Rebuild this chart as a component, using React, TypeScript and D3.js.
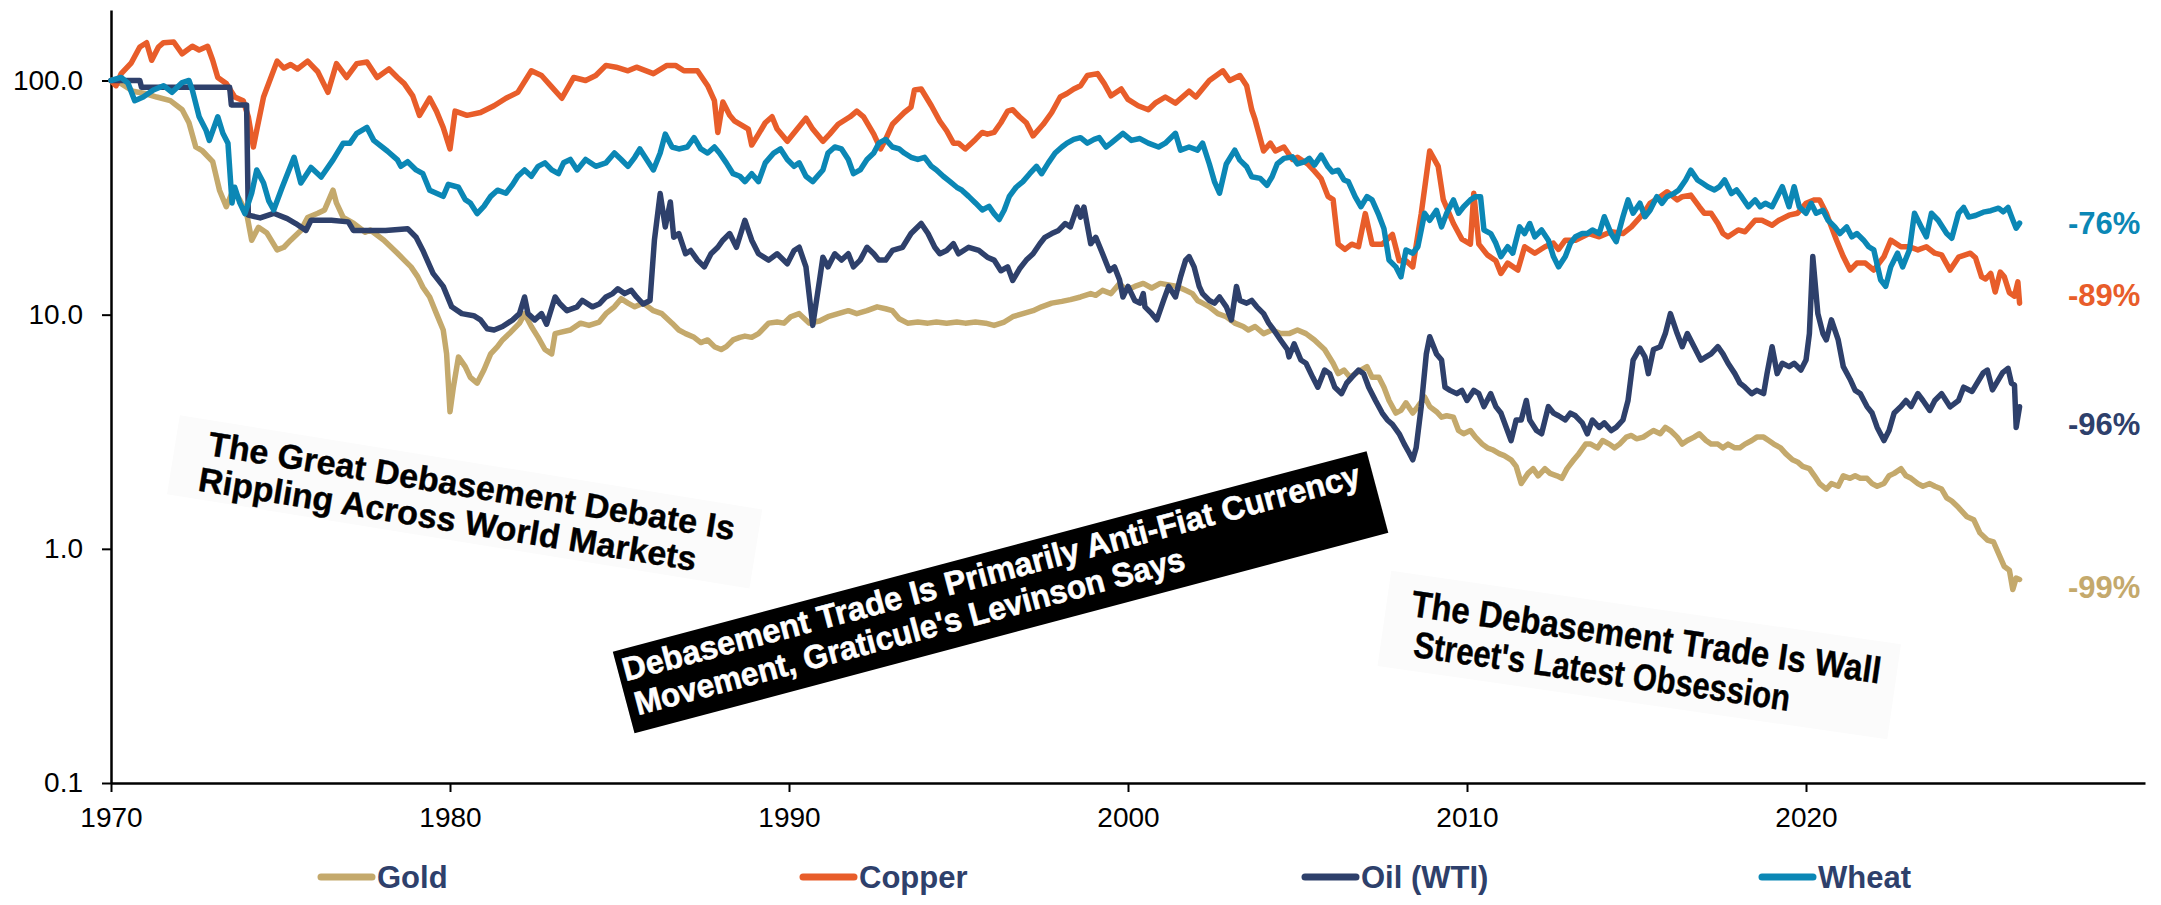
import React, { useEffect, useRef } from "react";
import * as d3 from "d3";

// purchasing power of the dollar in each commodity, 1970 = 100 (log scale)
const seriesNames = ["Gold", "Copper", "Oil (WTI)", "Wheat"];
const seriesColors = ["#C4A96C", "#E85D2A", "#2E406B", "#0B87B5"];
const endLabels = ["-99%", "-89%", "-96%", "-76%"];
const yTicks = [0.1, 1, 10, 100];
const xTicks = [1970, 1980, 1990, 2000, 2010, 2020];

const gold: [number, number][] = [
  [1970.0, 100], [1970.3, 97], [1970.65, 90], [1971.0, 88], [1971.35, 85], [1971.75, 82], [1972.1, 75], [1972.3, 66],
  [1972.5, 52], [1972.7, 50], [1973.0, 45], [1973.2, 34], [1973.4, 28.9], [1973.6, 34], [1973.8, 30.9], [1974.0, 27.1],
  [1974.15, 20.8], [1974.35, 23.6], [1974.6, 22.3], [1974.9, 18.9], [1975.1, 19.4], [1975.3, 20.8], [1975.6, 22.9],
  [1975.8, 26], [1976.1, 27.1], [1976.3, 28], [1976.55, 34], [1976.65, 30], [1976.85, 26], [1977.15, 24.6], [1977.5, 22.5],
  [1977.65, 23], [1978.05, 20.8], [1978.45, 18.3], [1978.65, 17.1], [1978.85, 16], [1979.05, 14.5], [1979.2, 13.1],
  [1979.4, 11.9], [1979.6, 10.1], [1979.8, 8.6], [1979.9, 6.8], [1980.0, 3.85], [1980.1, 4.9], [1980.25, 6.6], [1980.45, 6],
  [1980.6, 5.4], [1980.8, 5.1], [1981.0, 5.8], [1981.2, 6.8], [1981.4, 7.3], [1981.55, 7.8], [1981.75, 8.3], [1982.05, 9.2],
  [1982.2, 10.1], [1982.4, 8.9], [1982.6, 8.0], [1982.8, 7.1], [1983.0, 6.8], [1983.1, 8.3], [1983.25, 8.4], [1983.55, 8.6],
  [1983.85, 9.2], [1984.1, 9.0], [1984.4, 9.3], [1984.6, 10.1], [1984.85, 10.8], [1985.05, 11.7], [1985.25, 11.2],
  [1985.45, 10.8], [1985.7, 11.2], [1986.0, 10.4], [1986.25, 10.1], [1986.55, 9.2], [1986.75, 8.6], [1986.95, 8.3],
  [1987.2, 8.0], [1987.4, 7.6], [1987.6, 7.8], [1987.8, 7.3], [1988.0, 7.1], [1988.15, 7.3], [1988.35, 7.8], [1988.55, 8.0],
  [1988.7, 8.1], [1988.9, 8.0], [1989.1, 8.3], [1989.4, 9.2], [1989.65, 9.3], [1989.85, 9.2], [1990.05, 9.8], [1990.3, 10.1],
  [1990.6, 9.2], [1990.9, 9.4], [1991.15, 9.8], [1991.45, 10.1], [1991.75, 10.4], [1992.0, 10.1], [1992.3, 10.4],
  [1992.6, 10.8], [1992.85, 10.6], [1993.05, 10.4], [1993.25, 9.6], [1993.5, 9.2], [1993.8, 9.3], [1994.1, 9.2],
  [1994.35, 9.3], [1994.65, 9.2], [1994.95, 9.3], [1995.2, 9.2], [1995.5, 9.3], [1995.8, 9.2], [1996.05, 9.0], [1996.35, 9.3],
  [1996.6, 9.8], [1996.9, 10.1], [1997.2, 10.4], [1997.45, 10.8], [1997.75, 11.2], [1998.05, 11.4], [1998.3, 11.6],
  [1998.6, 11.9], [1998.9, 12.3], [1999.05, 12.1], [1999.25, 12.7], [1999.5, 12.3], [1999.75, 13.6], [1999.95, 12.7],
  [2000.2, 13.2], [2000.45, 13.6], [2000.7, 13.0], [2000.95, 13.6], [2001.2, 13.4], [2001.45, 13.2], [2001.7, 12.7],
  [2001.9, 12.3], [2002.05, 11.5], [2002.2, 11.2], [2002.4, 10.8], [2002.65, 10.1], [2002.9, 9.8], [2003.15, 9.2],
  [2003.4, 8.9], [2003.55, 8.6], [2003.75, 8.9], [2004.0, 8.3], [2004.25, 8.6], [2004.5, 8.3], [2004.75, 8.3], [2005.0, 8.6],
  [2005.25, 8.3], [2005.5, 7.8], [2005.8, 7.1], [2006.05, 6.2], [2006.2, 5.6], [2006.37, 5.8], [2006.55, 5.4], [2006.7, 5.6],
  [2006.87, 5.8], [2007.05, 6.0], [2007.2, 5.4], [2007.4, 5.4], [2007.55, 4.9], [2007.7, 4.3], [2007.9, 3.8], [2008.05, 3.9],
  [2008.2, 4.2], [2008.4, 3.8], [2008.55, 4.05], [2008.75, 4.45], [2008.9, 4.05], [2009.1, 3.85], [2009.25, 3.65],
  [2009.4, 3.7], [2009.6, 3.65], [2009.75, 3.2], [2009.9, 3.1], [2010.1, 3.2], [2010.25, 3.0], [2010.45, 2.8], [2010.6, 2.7],
  [2010.75, 2.65], [2010.95, 2.55], [2011.1, 2.5], [2011.3, 2.4], [2011.45, 2.25], [2011.6, 1.9], [2011.8, 2.1],
  [2011.95, 2.2], [2012.1, 2.05], [2012.3, 2.2], [2012.45, 2.1], [2012.65, 2.05], [2012.8, 2.0], [2012.95, 2.2],
  [2013.15, 2.4], [2013.3, 2.55], [2013.5, 2.8], [2013.65, 2.8], [2013.85, 2.7], [2014.0, 2.9], [2014.2, 2.8], [2014.35, 2.7],
  [2014.5, 2.8], [2014.7, 3.0], [2014.85, 3.05], [2015.0, 2.95], [2015.2, 3.0], [2015.35, 3.1], [2015.5, 3.2], [2015.7, 3.1],
  [2015.85, 3.3], [2016.0, 3.2], [2016.2, 3.0], [2016.35, 2.8], [2016.5, 2.9], [2016.7, 3.0], [2016.85, 3.1], [2017.05, 2.9],
  [2017.2, 2.8], [2017.4, 2.8], [2017.55, 2.7], [2017.7, 2.8], [2017.9, 2.7], [2018.05, 2.7], [2018.2, 2.8], [2018.4, 2.9],
  [2018.55, 3.0], [2018.75, 3.0], [2018.9, 2.9], [2019.05, 2.8], [2019.25, 2.7], [2019.4, 2.55], [2019.6, 2.4],
  [2019.75, 2.35], [2019.9, 2.25], [2020.1, 2.2], [2020.25, 2.05], [2020.4, 1.9], [2020.6, 1.8], [2020.75, 1.9],
  [2020.95, 1.85], [2021.1, 2.05], [2021.3, 2.0], [2021.45, 2.05], [2021.6, 2.0], [2021.8, 2.0], [2021.95, 1.9],
  [2022.1, 1.85], [2022.3, 1.9], [2022.45, 2.05], [2022.6, 2.1], [2022.8, 2.2], [2022.95, 2.05], [2023.1, 2.0], [2023.3, 1.9],
  [2023.45, 1.85], [2023.65, 1.9], [2023.8, 1.85], [2024.0, 1.8], [2024.15, 1.65], [2024.3, 1.6], [2024.5, 1.5],
  [2024.75, 1.37], [2024.95, 1.33], [2025.13, 1.17], [2025.35, 1.09], [2025.53, 1.07], [2025.73, 0.92], [2025.85, 0.84],
  [2026.0, 0.81], [2026.1, 0.67], [2026.2, 0.75], [2026.3, 0.74],
];

const copper: [number, number][] = [
  [1970.0, 100], [1970.15, 95], [1970.3, 107], [1970.6, 119], [1970.85, 139], [1971.05, 145], [1971.2, 122], [1971.4, 139],
  [1971.55, 145], [1971.85, 146], [1972.1, 130], [1972.4, 140], [1972.6, 135], [1972.85, 140], [1973.0, 122], [1973.15, 103],
  [1973.4, 97], [1973.65, 85], [1973.9, 82], [1974.05, 70], [1974.2, 52], [1974.3, 61.5], [1974.5, 85], [1974.65, 97],
  [1974.9, 121], [1975.1, 113], [1975.3, 117], [1975.5, 112], [1975.8, 121], [1976.1, 109], [1976.4, 89], [1976.65, 118],
  [1976.95, 103], [1977.25, 118], [1977.55, 120], [1977.85, 103], [1978.2, 112], [1978.45, 103], [1978.65, 97], [1978.9, 86],
  [1979.1, 71], [1979.4, 84], [1979.6, 74], [1979.8, 63], [1980.0, 51], [1980.15, 74], [1980.5, 71], [1980.9, 73],
  [1981.3, 78], [1981.65, 84], [1982.0, 89], [1982.4, 110], [1982.7, 105], [1983.0, 94], [1983.3, 84], [1983.65, 103],
  [1984.0, 100], [1984.3, 105], [1984.6, 116], [1984.9, 114], [1985.25, 110], [1985.5, 114], [1986.0, 107], [1986.4, 116],
  [1986.65, 116], [1986.9, 110], [1987.3, 110], [1987.6, 95], [1987.8, 82], [1987.9, 60], [1988.05, 81], [1988.25, 71],
  [1988.4, 67], [1988.8, 62], [1988.9, 53], [1989.1, 59], [1989.3, 66], [1989.5, 70], [1989.65, 62], [1989.95, 55],
  [1990.2, 61], [1990.5, 69], [1990.7, 62], [1991.0, 55], [1991.2, 59], [1991.45, 65], [1991.8, 70], [1992.0, 74],
  [1992.2, 70], [1992.5, 59], [1992.7, 51], [1992.85, 56], [1993.05, 65], [1993.4, 73], [1993.6, 77], [1993.7, 91],
  [1993.9, 92], [1994.2, 78], [1994.45, 67], [1994.65, 61], [1994.85, 54], [1995.0, 54], [1995.2, 51], [1995.5, 56],
  [1995.7, 60], [1995.85, 59], [1996.05, 60], [1996.25, 66], [1996.45, 74], [1996.6, 75], [1996.8, 70], [1997.0, 66],
  [1997.2, 58], [1997.5, 65], [1997.75, 73], [1998.0, 85], [1998.2, 88], [1998.4, 92], [1998.6, 95], [1998.8, 105],
  [1999.1, 107], [1999.3, 97], [1999.5, 86], [1999.8, 92], [2000.0, 83], [2000.3, 78], [2000.6, 75], [2000.8, 80],
  [2001.1, 85], [2001.4, 80], [2001.8, 90], [2002.0, 85], [2002.4, 100], [2002.8, 110], [2003.0, 100], [2003.3, 105],
  [2003.5, 95], [2003.65, 75], [2003.75, 68], [2004.0, 50], [2004.2, 54], [2004.35, 50], [2004.6, 52], [2004.85, 46],
  [2005.0, 47], [2005.3, 44], [2005.5, 41], [2005.7, 38], [2005.9, 32], [2006.05, 31], [2006.2, 20], [2006.4, 19],
  [2006.6, 20], [2006.8, 19.5], [2007.0, 27], [2007.2, 20], [2007.5, 20], [2007.8, 22], [2008.0, 17], [2008.2, 17],
  [2008.4, 16], [2008.65, 27], [2008.9, 50], [2009.15, 43], [2009.3, 31], [2009.6, 24.5], [2009.85, 21], [2010.1, 20],
  [2010.2, 33], [2010.35, 20], [2010.6, 18], [2010.85, 17], [2011.0, 15], [2011.2, 16.6], [2011.5, 15.5], [2011.7, 19.5],
  [2012.0, 18.3], [2012.3, 19.5], [2012.55, 20.2], [2012.7, 19], [2012.9, 20.8], [2013.2, 20.8], [2013.6, 22.2],
  [2013.9, 21.5], [2014.25, 22.6], [2014.6, 22.2], [2014.85, 23.7], [2015.2, 27], [2015.4, 29.9], [2015.7, 31.9],
  [2015.9, 33.5], [2016.2, 30.9], [2016.35, 31.9], [2016.6, 32.4], [2016.85, 28.9], [2017.0, 27.1], [2017.2, 27.1],
  [2017.4, 24.5], [2017.55, 22.2], [2017.7, 21.5], [2018.0, 23], [2018.2, 22.6], [2018.5, 25.3], [2018.7, 25.3],
  [2019.0, 24.1], [2019.2, 25.3], [2019.5, 26.6], [2019.75, 27.1], [2020.0, 29.9], [2020.25, 30.9], [2020.4, 30.9],
  [2020.6, 27.1], [2020.75, 23.7], [2020.9, 20.8], [2021.1, 17.7], [2021.3, 15.5], [2021.5, 16.6], [2021.75, 16.6],
  [2022.0, 15.5], [2022.3, 17.7], [2022.5, 20.8], [2022.8, 19.5], [2023.05, 19.5], [2023.3, 18.9], [2023.55, 19.5],
  [2023.8, 18.3], [2024.0, 18.0], [2024.25, 15.5], [2024.5, 17.6], [2024.85, 18.3], [2025.0, 17.5], [2025.18, 14.5],
  [2025.3, 14.2], [2025.45, 15], [2025.58, 12.5], [2025.73, 15.2], [2025.85, 14.5], [2026.0, 12.4], [2026.15, 12],
  [2026.25, 13.8], [2026.3, 11.2],
];

const oil: [number, number][] = [
  [1970.0, 100], [1970.85, 100], [1970.9, 93.5], [1973.5, 93.5], [1973.55, 78.5], [1974.0, 78.5], [1974.05, 26.6],
  [1974.4, 25.9], [1974.8, 27.1], [1975.2, 25.7], [1975.45, 24.5], [1975.75, 22.9], [1975.9, 25.3], [1976.5, 25.3],
  [1977.0, 24.9], [1977.15, 22.9], [1977.5, 22.9], [1978.1, 22.9], [1978.75, 23.3], [1979.0, 21.4], [1979.2, 18.8],
  [1979.5, 15], [1979.8, 13.2], [1980.05, 10.8], [1980.35, 10.1], [1980.7, 9.9], [1980.9, 9.5], [1981.1, 8.7], [1981.3, 8.6],
  [1981.55, 8.9], [1981.85, 9.5], [1982.05, 10.1], [1982.2, 11.9], [1982.3, 10.1], [1982.5, 9.5], [1982.7, 10.1],
  [1982.85, 9.1], [1983.1, 11.9], [1983.25, 11.1], [1983.45, 10.4], [1983.75, 10.8], [1983.9, 11.5], [1984.2, 10.8],
  [1984.4, 11.1], [1984.6, 11.9], [1984.8, 12.3], [1984.95, 12.9], [1985.15, 12.3], [1985.35, 12.7], [1985.5, 11.9],
  [1985.7, 11.1], [1985.9, 11.5], [1986.03, 20.8], [1986.2, 32.9], [1986.35, 23.7], [1986.5, 30.3], [1986.6, 21.4],
  [1986.75, 22.2], [1986.95, 18.2], [1987.1, 18.8], [1987.3, 17.1], [1987.5, 16], [1987.7, 18.2], [1987.9, 19.4],
  [1988.05, 20.8], [1988.25, 22.2], [1988.45, 19.4], [1988.7, 25.3], [1988.9, 20.8], [1989.1, 18.2], [1989.4, 17.1],
  [1989.65, 18.2], [1989.95, 16.5], [1990.15, 18.8], [1990.3, 19.4], [1990.5, 16], [1990.7, 9.0], [1990.9, 14.0],
  [1991.0, 17.6], [1991.15, 16], [1991.35, 18.2], [1991.55, 17.1], [1991.75, 18.2], [1991.9, 16], [1992.1, 17.1],
  [1992.3, 19.4], [1992.5, 18.2], [1992.65, 17.1], [1992.85, 17.1], [1993.05, 18.8], [1993.35, 19.4], [1993.6, 22.2],
  [1993.9, 24.5], [1994.1, 22.2], [1994.3, 19.4], [1994.45, 18.2], [1994.65, 18.8], [1994.85, 20.1], [1995.0, 18.2],
  [1995.3, 19.4], [1995.6, 18.8], [1995.85, 17.6], [1996.05, 17.1], [1996.25, 15.4], [1996.45, 16], [1996.6, 14],
  [1996.8, 15.7], [1997.0, 17.1], [1997.2, 18.2], [1997.4, 20.1], [1997.55, 21.4], [1997.75, 22.2], [1997.95, 22.9],
  [1998.15, 24.5], [1998.3, 23.7], [1998.5, 28.8], [1998.6, 26.1], [1998.7, 28.8], [1998.9, 20.1], [1999.05, 21.4],
  [1999.25, 18.2], [1999.45, 15.4], [1999.6, 16], [1999.75, 14.1], [1999.85, 11.9], [2000.0, 13.2], [2000.2, 11.5],
  [2000.35, 11.2], [2000.45, 12.3], [2000.5, 10.8], [2000.7, 10.1], [2000.85, 9.5], [2001.05, 11.5], [2001.2, 13.2],
  [2001.4, 11.9], [2001.55, 14.5], [2001.7, 17.1], [2001.8, 17.7], [2001.95, 16], [2002.1, 13.2], [2002.2, 12.3],
  [2002.4, 11.5], [2002.55, 11.2], [2002.7, 11.9], [2002.9, 10.8], [2003.05, 9.5], [2003.2, 13.2], [2003.3, 11.5],
  [2003.5, 11.2], [2003.65, 11.5], [2003.8, 10.8], [2004.0, 10.1], [2004.15, 9.2], [2004.3, 8.6], [2004.5, 7.8],
  [2004.7, 7.1], [2004.75, 6.6], [2004.9, 7.5], [2005.1, 6.4], [2005.25, 6.2], [2005.45, 5.4], [2005.6, 4.9], [2005.8, 5.8],
  [2005.95, 5.6], [2006.1, 4.9], [2006.3, 4.6], [2006.45, 5.1], [2006.6, 5.4], [2006.8, 5.8], [2006.95, 5.6], [2007.1, 4.9],
  [2007.3, 4.3], [2007.5, 3.8], [2007.65, 3.55], [2007.8, 3.4], [2008.0, 3.1], [2008.15, 2.8], [2008.3, 2.56],
  [2008.4, 2.4], [2008.5, 2.7], [2008.65, 4.05], [2008.8, 6.8], [2008.9, 8.05], [2009.1, 6.8], [2009.25, 6.4],
  [2009.35, 4.9], [2009.5, 4.75], [2009.7, 4.6], [2009.85, 4.75], [2010.0, 4.3], [2010.2, 4.75], [2010.35, 4.6],
  [2010.5, 4.05], [2010.7, 4.6], [2010.85, 4.05], [2011.0, 3.8], [2011.3, 2.9], [2011.45, 3.55], [2011.6, 3.55],
  [2011.75, 4.3], [2011.85, 3.55], [2012.05, 3.2], [2012.2, 3.1], [2012.4, 4.05], [2012.55, 3.8], [2012.7, 3.7],
  [2012.9, 3.55], [2013.05, 3.8], [2013.2, 3.7], [2013.4, 3.45], [2013.55, 3.1], [2013.7, 3.55], [2013.9, 3.3],
  [2014.05, 3.45], [2014.25, 3.2], [2014.4, 3.3], [2014.6, 3.55], [2014.75, 4.3], [2014.9, 6.4], [2015.1, 7.2],
  [2015.25, 6.6], [2015.35, 5.6], [2015.5, 7.1], [2015.7, 7.3], [2015.85, 8.3], [2016.0, 10.1], [2016.2, 8.3],
  [2016.35, 7.3], [2016.5, 8.3], [2016.7, 7.3], [2016.9, 6.4], [2017.05, 6.6], [2017.2, 6.8], [2017.4, 7.3],
  [2017.55, 6.8], [2017.7, 6.2], [2017.9, 5.6], [2018.05, 5.1], [2018.2, 4.9], [2018.4, 4.6], [2018.55, 4.75],
  [2018.75, 4.6], [2018.85, 5.6], [2019.0, 7.3], [2019.15, 5.6], [2019.3, 6.2], [2019.5, 6.0], [2019.65, 6.2],
  [2019.85, 5.8], [2020.0, 6.4], [2020.1, 8.3], [2020.2, 17.7], [2020.35, 10.1], [2020.5, 8.3], [2020.6, 7.8],
  [2020.75, 9.5], [2020.95, 7.8], [2021.1, 6.0], [2021.3, 5.3], [2021.45, 4.75], [2021.6, 4.6], [2021.8, 4.05],
  [2021.95, 3.8], [2022.1, 3.3], [2022.3, 2.9], [2022.45, 3.2], [2022.6, 3.8], [2022.8, 4.05], [2022.95, 4.3],
  [2023.1, 4.05], [2023.3, 4.6], [2023.45, 4.3], [2023.65, 3.9], [2023.8, 4.3], [2024.0, 4.6], [2024.25, 4.04],
  [2024.5, 4.3], [2024.65, 4.9], [2024.9, 4.7], [2025.23, 5.65], [2025.35, 5.8], [2025.5, 4.77], [2025.8, 5.65],
  [2025.96, 5.9], [2026.06, 5.1], [2026.15, 5.0], [2026.2, 3.3], [2026.3, 4.04],
];

const wheat: [number, number][] = [
  [1970.0, 100], [1970.3, 103], [1970.5, 97.5], [1970.7, 82], [1970.95, 85], [1971.25, 91], [1971.55, 95], [1971.8, 89],
  [1972.1, 98], [1972.3, 100], [1972.4, 91], [1972.6, 70], [1972.8, 61.5], [1972.9, 55.5], [1973.15, 70], [1973.3, 59.5],
  [1973.45, 54], [1973.57, 30], [1973.65, 35], [1973.8, 30], [1973.95, 27], [1974.15, 33], [1974.3, 41.5], [1974.5, 36.5],
  [1974.65, 30.7], [1974.8, 28], [1975.05, 35], [1975.4, 47], [1975.6, 36.5], [1975.9, 42.5], [1976.2, 38.7],
  [1976.55, 45.8], [1976.85, 54], [1977.05, 54], [1977.25, 59.5], [1977.55, 63], [1977.75, 55.5], [1978.15, 50],
  [1978.45, 45.8], [1978.55, 43], [1978.75, 45], [1979.0, 41.5], [1979.2, 40], [1979.4, 34], [1979.6, 33], [1979.8, 32],
  [1979.95, 36], [1980.25, 35], [1980.45, 31], [1980.6, 30], [1980.8, 27], [1981.0, 29], [1981.2, 32], [1981.4, 34],
  [1981.65, 33], [1981.85, 36], [1982.0, 39], [1982.2, 41.5], [1982.4, 39], [1982.6, 43], [1982.8, 44.5], [1983.0, 41.5],
  [1983.2, 40], [1983.35, 44.5], [1983.55, 46], [1983.75, 41.5], [1984.0, 46], [1984.3, 43], [1984.6, 44.5], [1984.85, 49],
  [1985.05, 46], [1985.25, 43], [1985.45, 47], [1985.6, 51], [1985.8, 46], [1986.0, 41.5], [1986.2, 49], [1986.35, 59],
  [1986.55, 52], [1986.75, 51], [1987.0, 52], [1987.2, 57], [1987.4, 51], [1987.6, 49], [1987.8, 52], [1987.95, 49],
  [1988.15, 44.5], [1988.35, 40], [1988.55, 39], [1988.7, 37], [1988.9, 40], [1989.1, 37], [1989.3, 44.5], [1989.55, 49],
  [1989.75, 51], [1989.95, 46], [1990.15, 43], [1990.3, 44.5], [1990.5, 39], [1990.7, 37], [1991.0, 41.5], [1991.15, 49],
  [1991.35, 52], [1991.55, 51], [1991.75, 46], [1991.9, 40], [1992.1, 41.5], [1992.3, 46], [1992.5, 49], [1992.65, 54],
  [1992.85, 56], [1993.05, 52], [1993.25, 51], [1993.4, 49], [1993.6, 47], [1993.8, 46], [1994.0, 47], [1994.2, 43],
  [1994.35, 41.5], [1994.55, 39], [1994.75, 37], [1994.95, 35], [1995.1, 34], [1995.3, 32], [1995.5, 30], [1995.7, 28],
  [1995.9, 29], [1996.05, 27], [1996.2, 25.5], [1996.35, 28], [1996.5, 32], [1996.7, 35], [1996.9, 37], [1997.1, 40],
  [1997.3, 43], [1997.45, 40], [1997.65, 44.5], [1997.85, 49], [1998.05, 52], [1998.2, 54], [1998.4, 56], [1998.6, 57],
  [1998.8, 54], [1999.0, 56], [1999.15, 57], [1999.35, 52], [1999.5, 54], [1999.85, 59.5], [2000.1, 55.5], [2000.35, 56.5],
  [2000.6, 54], [2000.9, 52], [2001.1, 54], [2001.4, 59.5], [2001.55, 50.4], [2001.8, 52], [2002.05, 50.4], [2002.2, 54],
  [2002.4, 44], [2002.55, 37], [2002.7, 33], [2002.9, 44], [2003.15, 50.4], [2003.3, 45.7], [2003.5, 42.8], [2003.65, 38.8],
  [2003.9, 38.2], [2004.1, 35.7], [2004.25, 38.8], [2004.4, 44], [2004.6, 46.5], [2004.85, 47.2], [2005.0, 44],
  [2005.2, 44.9], [2005.35, 46.5], [2005.5, 43.5], [2005.7, 48], [2005.9, 42.8], [2006.03, 40.7], [2006.2, 41.4],
  [2006.37, 37.6], [2006.5, 37], [2006.7, 31.9], [2006.87, 28.9], [2007.05, 31.9], [2007.2, 30.9], [2007.4, 26.6],
  [2007.55, 23.3], [2007.7, 17.1], [2007.9, 16.0], [2008.05, 14.5], [2008.2, 18.9], [2008.4, 18.3], [2008.55, 19.5],
  [2008.75, 27.1], [2008.9, 25.3], [2009.1, 27.9], [2009.25, 23.7], [2009.4, 27.1], [2009.6, 30.9], [2009.75, 27.1],
  [2009.9, 28.9], [2010.1, 30.9], [2010.25, 31.9], [2010.4, 31.9], [2010.5, 23], [2010.7, 22.2], [2010.85, 20.2],
  [2011.0, 17.7], [2011.2, 19.5], [2011.35, 18.3], [2011.55, 23.7], [2011.7, 22.2], [2011.85, 24.5], [2012.0, 21.5],
  [2012.2, 23], [2012.4, 20.8], [2012.55, 17.7], [2012.7, 16.0], [2012.9, 17.7], [2013.05, 20.2], [2013.2, 21.5],
  [2013.4, 22.2], [2013.55, 22.2], [2013.7, 23], [2013.9, 22.2], [2014.05, 26.2], [2014.25, 22.2], [2014.4, 20.5],
  [2014.6, 26.2], [2014.75, 30.9], [2014.9, 27.1], [2015.1, 29.9], [2015.25, 26.2], [2015.4, 27.9], [2015.6, 31.9],
  [2015.75, 29.9], [2015.9, 31.9], [2016.1, 32.9], [2016.25, 34.1], [2016.45, 37.6], [2016.6, 41.4], [2016.8, 37.6],
  [2016.95, 36.4], [2017.1, 35.2], [2017.3, 34.1], [2017.45, 35.2], [2017.6, 37.6], [2017.8, 32.9], [2017.95, 34.1],
  [2018.1, 31.9], [2018.3, 28.9], [2018.5, 30.9], [2018.65, 28.9], [2018.8, 29.9], [2019.0, 28.9], [2019.15, 31.9],
  [2019.3, 35.2], [2019.5, 28.9], [2019.65, 35.2], [2019.8, 28.9], [2020.0, 27.1], [2020.15, 29.9], [2020.3, 27.1],
  [2020.5, 27.9], [2020.65, 25.3], [2020.85, 23.7], [2021.0, 22.2], [2021.2, 23.7], [2021.35, 21.5], [2021.5, 22.2],
  [2021.7, 20.8], [2021.85, 19.5], [2022.0, 18.9], [2022.2, 14.1], [2022.35, 13.2], [2022.5, 16.0], [2022.7, 18.3],
  [2022.85, 16.0], [2023.05, 18.9], [2023.2, 27.1], [2023.4, 23.7], [2023.55, 21.5], [2023.7, 27.1], [2023.9, 25.3],
  [2024.15, 22.2], [2024.3, 21.2], [2024.5, 27.1], [2024.65, 28.7], [2024.8, 26.1], [2025.0, 26.5], [2025.23, 27.4],
  [2025.45, 27.8], [2025.68, 28.5], [2025.82, 27.5], [2025.96, 28.7], [2026.1, 25.4], [2026.2, 23.4], [2026.3, 24.6],
];

const headlineA = ["The Great Debasement Debate Is", "Rippling Across World Markets"];
const headlineB = ["Debasement Trade Is Primarily Anti-Fiat Currency", "Movement, Graticule's Levinson Says"];
const headlineC = ["The Debasement Trade Is Wall", "Street's Latest Obsession"];

const W = 2161;
const H = 905;
const FONT = "'Liberation Sans', Arial, Helvetica, sans-serif";

export default function App() {
  const ref = useRef<SVGSVGElement>(null);

  useEffect(() => {
    const svg = d3.select(ref.current);
    svg.selectAll("*").remove();

    const x = d3.scaleLinear().domain([1970, 2030]).range([111, 2145]);
    const y = d3.scaleLog().domain([0.1, 200]).range([783, 10]);

    // axes
    const yAxis = svg.append("g")
      .attr("transform", "translate(111,0)")
      .call(d3.axisLeft(y).tickValues(yTicks).tickFormat(d3.format(".1f")).tickSize(9).tickSizeOuter(0).tickPadding(19));
    const xAxis = svg.append("g")
      .attr("transform", "translate(0,783)")
      .call(d3.axisBottom(x).tickValues(xTicks).tickFormat(d3.format("d")).tickSize(9).tickSizeOuter(0).tickPadding(15));

    [yAxis, xAxis].forEach((ax) => {
      ax.select(".domain").attr("stroke", "#000").attr("stroke-width", 2.5);
      ax.selectAll(".tick line").attr("stroke", "#000").attr("stroke-width", 2);
      ax.selectAll(".tick text")
        .attr("fill", "#000")
        .style("font-family", FONT)
        .style("font-size", "28px");
    });

    // headline snippets (drawn under the lines)
    const hl = svg.append("g").style("font-family", FONT).style("font-weight", "700");

    const a = hl.append("g").attr("transform", "translate(206.8,455) rotate(9.2)");
    a.append("rect").attr("x", -33).attr("y", -35).attr("width", 590).attr("height", 80).attr("fill", "#fbfbfb");
    a.append("text").attr("x", 0).attr("y", 0).attr("font-size", 34).attr("fill", "#000")
      .attr("stroke", "#000").attr("stroke-width", 0.4)
      .attr("textLength", 533).attr("lengthAdjust", "spacingAndGlyphs").text(headlineA[0]);
    a.append("text").attr("x", -4).attr("y", 36.5).attr("font-size", 34).attr("fill", "#000")
      .attr("stroke", "#000").attr("stroke-width", 0.4)
      .attr("textLength", 504).attr("lengthAdjust", "spacingAndGlyphs").text(headlineA[1]);

    const c = hl.append("g").attr("transform", "translate(1410,616) rotate(8.2)");
    c.append("rect").attr("x", -25).attr("y", -42).attr("width", 515).attr("height", 96).attr("fill", "#fbfbfb");
    c.append("text").attr("x", 0).attr("y", 0).attr("font-size", 37).attr("fill", "#000")
      .attr("stroke", "#000").attr("stroke-width", 0.4)
      .attr("textLength", 474).attr("lengthAdjust", "spacingAndGlyphs").text(headlineC[0]);
    c.append("text").attr("x", 8).attr("y", 40).attr("font-size", 37).attr("fill", "#000")
      .attr("stroke", "#000").attr("stroke-width", 0.4)
      .attr("textLength", 380).attr("lengthAdjust", "spacingAndGlyphs").text(headlineC[1]);

    // series lines
    const line = d3.line<[number, number]>()
      .x((d) => x(d[0]))
      .y((d) => y(d[1]));

    const allSeries = [gold, copper, oil, wheat];
    svg.append("g")
      .selectAll("path")
      .data(allSeries)
      .enter()
      .append("path")
      .attr("d", (d) => line(d))
      .attr("fill", "none")
      .attr("stroke", (_, i) => seriesColors[i])
      .attr("stroke-width", 5.5)
      .attr("stroke-linejoin", "round")
      .attr("stroke-linecap", "round");

    // black headline sits above the lines
    const b = svg.append("g")
      .style("font-family", FONT).style("font-weight", "700")
      .attr("transform", "translate(612.8,651.7) rotate(-14.9)");
    b.append("rect").attr("x", 0).attr("y", 0).attr("width", 780).attr("height", 84.5).attr("fill", "#000");
    b.append("text").attr("x", 5).attr("y", 32).attr("font-size", 33).attr("fill", "#fff")
      .attr("stroke", "#fff").attr("stroke-width", 0.6)
      .attr("textLength", 762).attr("lengthAdjust", "spacingAndGlyphs").text(headlineB[0]);
    b.append("text").attr("x", 8).attr("y", 68).attr("font-size", 33).attr("fill", "#fff")
      .attr("stroke", "#fff").attr("stroke-width", 0.6)
      .attr("textLength", 568).attr("lengthAdjust", "spacingAndGlyphs").text(headlineB[1]);

    // end-of-line change labels
    const labelShift = [8, -8, 18, 0];
    svg.append("g")
      .selectAll("text")
      .data(allSeries)
      .enter()
      .append("text")
      .attr("x", 2068)
      .attr("y", (d, i) => y(d[d.length - 1][1]) + labelShift[i])
      .attr("dominant-baseline", "central")
      .attr("fill", (_, i) => seriesColors[i])
      .style("font-family", FONT)
      .style("font-weight", "700")
      .style("font-size", "31px")
      .text((_, i) => endLabels[i]);

    // legend
    const legendX = [321, 803, 1305, 1762];
    const legend = svg.append("g")
      .selectAll("g")
      .data(seriesNames)
      .enter()
      .append("g")
      .attr("transform", (_, i) => `translate(${legendX[i]}, 877)`);
    legend.append("line")
      .attr("x1", 0).attr("x2", 51)
      .attr("stroke", (_, i) => seriesColors[i])
      .attr("stroke-width", 7)
      .attr("stroke-linecap", "round");
    legend.append("text")
      .attr("x", 56)
      .attr("dominant-baseline", "central")
      .attr("fill", "#2E406B")
      .style("font-family", FONT)
      .style("font-weight", "700")
      .style("font-size", "31px")
      .text((d) => d);
  }, []);

  return (
    <div style={{ width: W, height: H, background: "#fff" }}>
      <style>{"body{margin:0;background:#fff}"}</style>
      <svg ref={ref} width={W} height={H} viewBox={`0 0 ${W} ${H}`} style={{ display: "block" }} />
    </div>
  );
}
